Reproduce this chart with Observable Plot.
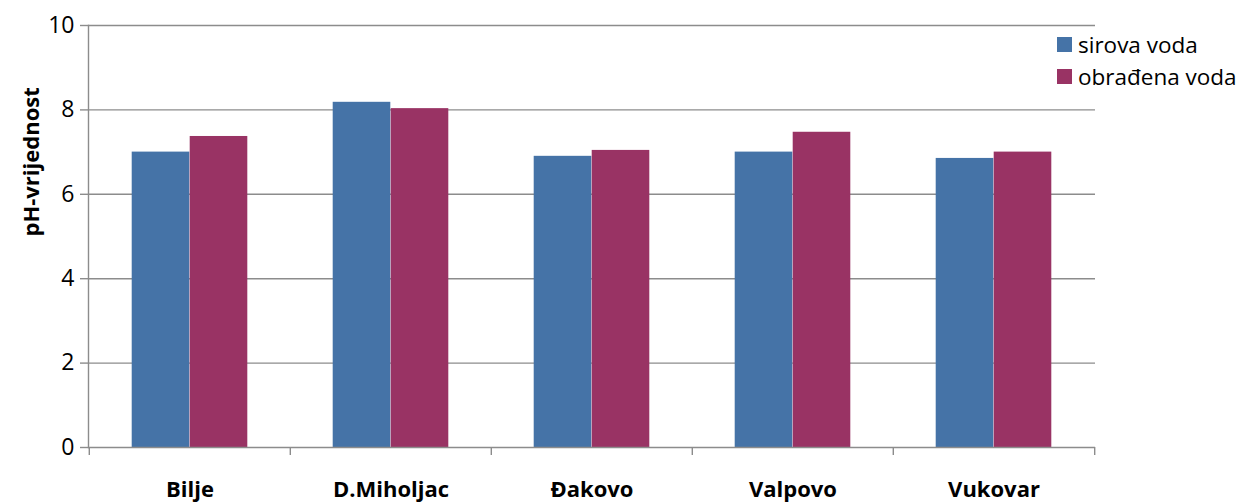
<!DOCTYPE html>
<html>
<head>
<meta charset="utf-8">
<script src="https://cdn.jsdelivr.net/npm/d3@7"></script>
<script src="https://cdn.jsdelivr.net/npm/@observablehq/plot@0.6"></script>
<style>
  html, body { margin: 0; padding: 0; background: #fff; }
  #wrap { position: relative; width: 1243px; height: 502px; font-family: "Open Sans", sans-serif; }
  #legend { position: absolute; left: 1057px; top: 28px; font-size: 22.5px; color: #000; }
  #legend div { display: flex; align-items: center; height: 32px; white-space: nowrap; }
  #legend span.sw { display: inline-block; width: 15px; height: 15px; margin-right: 6px; }
</style>
</head>
<body>
<div id="wrap">
  <div id="chart"></div>
  <div id="legend"></div>
</div>
<script>
const categories = ["Bilje", "D.Miholjac", "Đakovo", "Valpovo", "Vukovar"];
const seriesNames = ["sirova voda", "obrađena voda"];
const sirova = [7.0, 8.18, 6.9, 7.0, 6.85];
const obradjena = [7.37, 8.03, 7.04, 7.47, 7.0];
const yTicks = [0, 2, 4, 6, 8, 10];
const yLabel = "pH-vrijednost";
const colors = ["#4573a7", "#993364"];

const rows = [];
categories.forEach((c, i) => {
  rows.push({cat: c, series: seriesNames[0], value: sirova[i]});
  rows.push({cat: c, series: seriesNames[1], value: obradjena[i]});
});

const W = 1243, H = 502;
const mL = 88, mR = 148, mT = 25, mB = 55;
const step = (W - mL - mR) / categories.length;
const barW = 58;
const outer = (step - 2 * barW) / 2;
const gray = "#8c8c8c";

const chart = Plot.plot({
  width: W,
  height: H,
  marginLeft: mL,
  marginRight: mR,
  marginTop: mT,
  marginBottom: mB,
  style: {fontFamily: "'Open Sans', sans-serif", color: "#000", background: "#fff", overflow: "visible"},
  x: {domain: categories, padding: 0, label: null},
  y: {domain: [0, 10], label: null},
  color: {domain: seriesNames, range: colors},
  marks: [
    Plot.gridY({ticks: yTicks.filter(t => t > 0), stroke: gray, strokeOpacity: 1, strokeWidth: 1.4}),
    Plot.barY(rows.filter(d => d.series === seriesNames[0]), {x: "cat", y: "value", fill: "series", insetLeft: outer, insetRight: step - outer - barW}),
    Plot.barY(rows.filter(d => d.series === seriesNames[1]), {x: "cat", y: "value", fill: "series", insetLeft: outer + barW, insetRight: outer}),
    Plot.ruleY([0], {stroke: gray, strokeWidth: 1.4}),
    Plot.frame({anchor: "left", stroke: gray, strokeWidth: 1.4}),
    Plot.ruleX(categories, {x: d => d, dx: -step / 2, insetTop: H - mT - mB, insetBottom: -8, stroke: gray, strokeWidth: 1.4}),
    Plot.ruleX(categories.slice(-1), {x: d => d, dx: step / 2, insetTop: H - mT - mB, insetBottom: -8, stroke: gray, strokeWidth: 1.4}),
    Plot.axisY({ticks: yTicks, tickSize: 8, tickPadding: 6, fontSize: 23, stroke: gray, strokeWidth: 1.4, strokeOpacity: 1, label: null}),
    Plot.axisX({tickSize: 0, tickPadding: 34, fontSize: 22, fontWeight: "bold", label: null}),
    Plot.text([yLabel], {frameAnchor: "left", rotate: -90, dx: -57, fontSize: 22, fontWeight: "bold", fill: "#000"})
  ]
});
document.getElementById("chart").appendChild(chart);

const legend = document.getElementById("legend");
seriesNames.forEach((s, i) => {
  const row = document.createElement("div");
  row.innerHTML = `<span class="sw" style="background:${colors[i]}"></span><span>${s}</span>`;
  legend.appendChild(row);
});
</script>
</body>
</html>
